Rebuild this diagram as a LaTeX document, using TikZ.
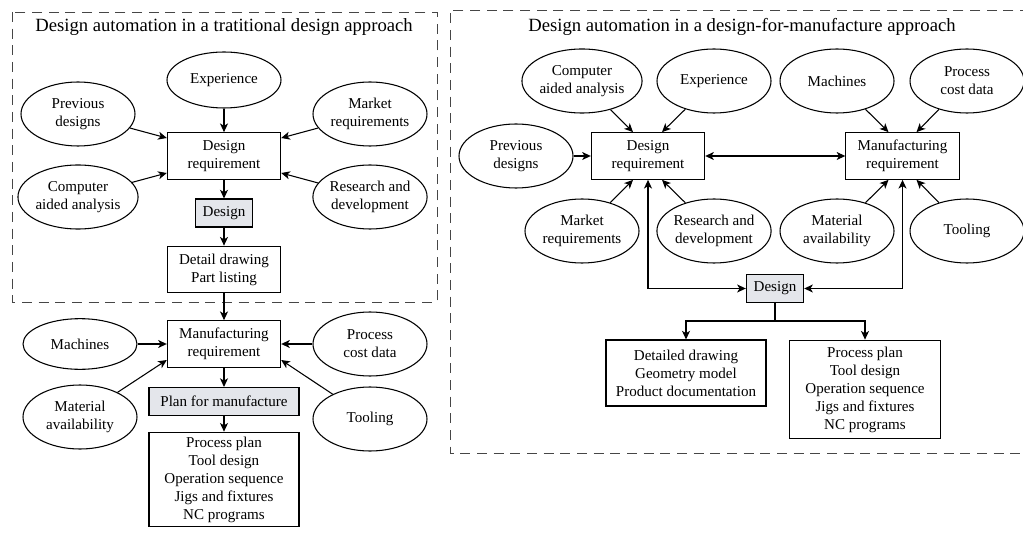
\documentclass[tikz,border=0pt]{standalone}
\usepackage{fontspec}
\setmainfont{Liberation Serif}
\usetikzlibrary{arrows.meta,shapes.geometric,calc}
\definecolor{designgray}{RGB}{228,230,235}
\definecolor{framegray}{RGB}{70,70,70}

\begin{document}
\begin{tikzpicture}[x=0.75pt, y=-0.75pt, line width=0.8pt, >={Stealth[length=6.5pt,width=6pt,inset=1.8pt]},
    every node/.style={font=\fontsize{11.3}{13.5}\selectfont, align=center},
    source/.style={draw, ellipse, minimum width=85.5pt, minimum height=48pt, inner xsep=0pt, inner ysep=1pt},
    req/.style={draw, rectangle, minimum width=85pt, minimum height=35pt},
    act/.style={draw, rectangle, fill=designgray, minimum width=43pt, minimum height=21pt},
    result/.style={draw, rectangle, minimum width=112.5pt},
    heading/.style={font=\fontsize{14}{16}\selectfont},
    frame/.style={framegray, line width=0.7pt, dash pattern=on 7.5pt off 5pt}]
  \useasboundingbox (0,0) rectangle (1023,534);

  % --- Traditional design approach ---
  \draw[frame] (12,12) rectangle (437,302);
  \node[heading] (ttlL) at (224,27) {Design automation in a tratitional design approach};
  \node[source, minimum height=42pt] (expL) at (224,80) {Experience};
  \node[source] (prevL) at (78,114) {Previous\\designs};
  \node[source] (mrkL)  at (370,114) {Market\\requirements};
  \node[req] (dreqL) at (224,156) {Design\\requirement};
  \node[source] (compL) at (78,197) {Computer\\aided analysis};
  \node[source] (resL)  at (370,197) {Research and\\development};
  \node[act] (desL) at (224,213) {Design};
  \node[req] (detL) at (224,269.5) {Detail drawing\\Part listing};

  \draw[->] (expL) -- (dreqL);
  \draw[->] (prevL) -- ($(dreqL.west)+(0,-18)$);
  \draw[->] (compL) -- ($(dreqL.west)+(0,17)$);
  \draw[->] (mrkL) -- ($(dreqL.east)+(0,-18)$);
  \draw[->] (resL) -- ($(dreqL.east)+(0,17)$);
  \draw[->] (dreqL) -- (desL);
  \draw[->] (desL) -- (detL);

  % manufacture part
  \node[req] (mreqL) at (224,344) {Manufacturing\\requirement};
  \node[source, minimum height=38pt] (machL) at (80,344) {Machines};
  \node[source] (procL) at (370,344) {Process\\cost data};
  \node[act, minimum width=112.5pt] (planL) at (224,401.5) {Plan for manufacture};
  \node[source] (matL)  at (80,417) {Material\\availability};
  \node[source] (toolL) at (370,419) {Tooling};
  \node[result, minimum height=68pt] (outL) at (224,479.5)
    {Process plan\\Tool design\\Operation sequence\\Jigs and fixtures\\NC programs};

  \draw[->] (detL) -- (mreqL);
  \draw[->] (machL) -- (mreqL);
  \draw[->] (procL) -- (mreqL);
  \draw[->] (matL) -- ($(mreqL.west)+(0,16)$);
  \draw[->] (toolL) -- ($(mreqL.east)+(0,16)$);
  \draw[->] (mreqL) -- (planL);
  \draw[->] (planL) -- (outL);

  % --- Design-for-manufacture approach ---
  \draw[frame] (1030,10) -- (450,10) -- (450,453) -- (1030,453);
  \node[heading] (ttlR) at (742,27) {Design automation in a design-for-manufacture approach};
  \node[source] (compR) at (582,81) {Computer\\aided analysis};
  \node[source] (expR)  at (714,81) {Experience};
  \node[source] (machR) at (837,81) {Machines};
  \node[source] (procR) at (967,81) {Process\\cost data};
  \node[source] (prevR) at (516,156) {Previous\\designs};
  \node[req] (dreqR) at (648,156) {Design\\requirement};
  \node[req] (mreqR) at (902.5,156) {Manufacturing\\requirement};
  \node[source] (mrkR)  at (582,231) {Market\\requirements};
  \node[source] (resR)  at (714,231) {Research and\\development};
  \node[source] (matR)  at (837,231) {Material\\availability};
  \node[source] (toolR) at (967,231) {Tooling};
  \node[act] (desR) at (775,288.5) {Design};
  \node[draw, minimum width=120pt, minimum height=49.5pt] (detR) at (686,373)
    {Detailed drawing\\Geometry model\\Product documentation};
  \node[result, minimum width=113pt, minimum height=74pt] (outR) at (865,389.5)
    {Process plan\\Tool design\\Operation sequence\\Jigs and fixtures\\NC programs};
  \coordinate (splitR) at (775,321);

  \draw[->] (compR) -- ($(dreqR.north)+(-15,0)$);
  \draw[->] (expR) -- ($(dreqR.north)+(14,0)$);
  \draw[->] (prevR) -- (dreqR);
  \draw[->] (mrkR) -- ($(dreqR.south)+(-15,0)$);
  \draw[->] (resR) -- ($(dreqR.south)+(14,0)$);
  \draw[->] (machR) -- ($(mreqR.north)+(-14,0)$);
  \draw[->] (procR) -- ($(mreqR.north)+(14,0)$);
  \draw[->] (matR) -- ($(mreqR.south)+(-14,0)$);
  \draw[->] (toolR) -- ($(mreqR.south)+(14,0)$);
  \draw[<->] (dreqR) -- (mreqR);
  \draw[<->] (dreqR.south) |- (desR.west);
  \draw[<->] (mreqR.south) |- (desR.east);
  \draw (desR) -- (splitR);
  \draw[->] (splitR) -| (detR.north);
  \draw[->] (splitR) -| (outR.north);
\end{tikzpicture}
\end{document}
